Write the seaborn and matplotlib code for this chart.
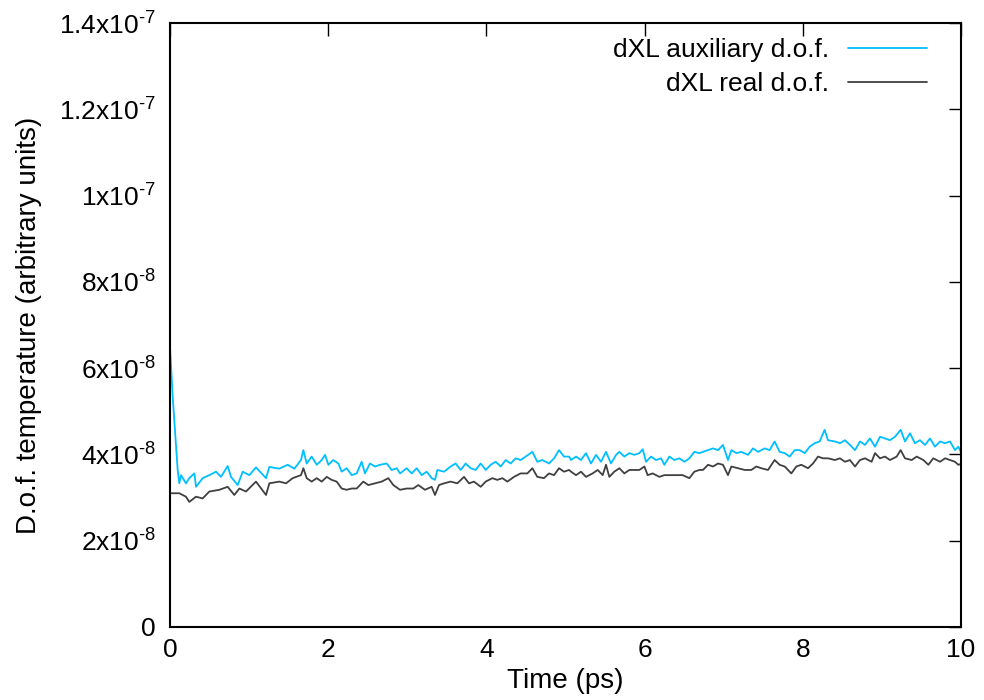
import matplotlib
matplotlib.use("Agg")
import matplotlib.pyplot as plt
import seaborn as sns
import pandas as pd

# ---------------- data (values in units of 1e-8) ----------------
time_aux = [0.00, 0.034, 0.097, 0.118, 0.139, 0.202, 0.244, 0.308, 0.329, 0.413, 0.497,
            0.582, 0.645, 0.729, 0.771, 0.856, 0.919, 1.003, 1.087, 1.214, 1.256, 1.382,
            1.488, 1.572, 1.656, 1.686, 1.728, 1.791, 1.855, 1.918, 1.960, 2.002, 2.065,
            2.128, 2.170, 2.233, 2.297, 2.360, 2.423, 2.465, 2.528, 2.592, 2.655, 2.739,
            2.802, 2.866, 2.908, 2.992, 3.055, 3.119, 3.182, 3.245, 3.308, 3.350, 3.380,
            3.464, 3.548, 3.611, 3.675, 3.738, 3.801, 3.864, 3.928, 3.991, 4.054, 4.117,
            4.181, 4.244, 4.307, 4.370, 4.433, 4.497, 4.581, 4.644, 4.707, 4.792, 4.855,
            4.918, 4.981, 5.045, 5.070, 5.133, 5.196, 5.259, 5.322, 5.386, 5.449, 5.512,
            5.575, 5.639, 5.681, 5.744, 5.807, 5.870, 5.934, 5.976, 6.018, 6.081, 6.144,
            6.208, 6.250, 6.313, 6.376, 6.439, 6.503, 6.566, 6.629, 6.692, 6.738, 6.802,
            6.865, 6.928, 6.991, 7.054, 7.097, 7.160, 7.223, 7.307, 7.370, 7.434, 7.518,
            7.581, 7.644, 7.707, 7.771, 7.834, 7.897, 7.960, 8.024, 8.087, 8.150, 8.213,
            8.276, 8.318, 8.407, 8.470, 8.533, 8.596, 8.660, 8.723, 8.786, 8.849, 8.913,
            8.976, 9.039, 9.102, 9.166, 9.237, 9.292, 9.355, 9.418, 9.482, 9.545, 9.608,
            9.671, 9.735, 9.798, 9.861, 9.924, 9.966, 10.00]
temp_aux = [6.49, 5.34, 3.64, 3.33, 3.52, 3.33, 3.45, 3.56, 3.25, 3.45, 3.52,
            3.60, 3.48, 3.73, 3.48, 3.29, 3.60, 3.52, 3.70, 3.45, 3.71, 3.67,
            3.76, 3.67, 3.87, 4.10, 3.79, 3.95, 3.76, 3.87, 3.99, 3.76, 3.87,
            3.79, 3.60, 3.68, 3.52, 3.56, 3.83, 3.56, 3.79, 3.72, 3.76, 3.79,
            3.64, 3.68, 3.56, 3.68, 3.56, 3.68, 3.52, 3.60, 3.45, 3.41, 3.64,
            3.60, 3.72, 3.79, 3.64, 3.79, 3.68, 3.64, 3.79, 3.64, 3.76, 3.83,
            3.72, 3.87, 3.79, 3.91, 3.87, 3.95, 4.06, 3.83, 3.87, 3.79, 3.91,
            4.10, 3.95, 3.95, 3.87, 3.95, 3.87, 4.03, 3.79, 3.99, 3.83, 4.06,
            3.79, 3.99, 4.06, 3.95, 4.03, 3.99, 4.03, 4.12, 3.83, 3.95, 3.87,
            3.91, 3.76, 3.95, 3.87, 3.91, 3.83, 3.91, 4.06, 4.03, 4.06, 4.10,
            4.14, 4.10, 4.22, 3.87, 4.10, 4.03, 4.06, 3.99, 4.14, 4.06, 4.14,
            4.10, 4.30, 4.06, 4.03, 3.95, 4.10, 4.10, 4.03, 4.18, 4.26, 4.30,
            4.57, 4.33, 4.30, 4.26, 4.33, 4.22, 4.10, 4.30, 4.22, 4.37, 4.18,
            4.41, 4.37, 4.33, 4.41, 4.57, 4.30, 4.49, 4.26, 4.33, 4.22, 4.37,
            4.18, 4.30, 4.26, 4.30, 4.10, 4.18, 4.05]

time_real = [0.00, 0.118, 0.202, 0.244, 0.329, 0.413, 0.497, 0.624, 0.729, 0.813, 0.877,
             0.961, 1.087, 1.214, 1.256, 1.382, 1.467, 1.551, 1.656, 1.686, 1.728, 1.791,
             1.855, 1.918, 1.981, 2.044, 2.107, 2.170, 2.233, 2.297, 2.360, 2.444, 2.507,
             2.592, 2.676, 2.760, 2.823, 2.908, 2.992, 3.076, 3.139, 3.223, 3.308, 3.350,
             3.401, 3.464, 3.548, 3.633, 3.717, 3.780, 3.843, 3.928, 3.991, 4.075, 4.138,
             4.202, 4.265, 4.349, 4.433, 4.518, 4.581, 4.644, 4.728, 4.792, 4.855, 4.918,
             4.981, 5.045, 5.070, 5.133, 5.196, 5.259, 5.343, 5.407, 5.470, 5.512, 5.554,
             5.617, 5.681, 5.744, 5.807, 5.870, 5.934, 5.997, 6.039, 6.102, 6.187, 6.250,
             6.334, 6.397, 6.481, 6.566, 6.629, 6.692, 6.738, 6.802, 6.865, 6.928, 6.991,
             7.054, 7.097, 7.181, 7.265, 7.349, 7.412, 7.476, 7.560, 7.644, 7.707, 7.771,
             7.855, 7.918, 7.981, 8.066, 8.129, 8.192, 8.255, 8.318, 8.407, 8.470, 8.533,
             8.596, 8.660, 8.723, 8.786, 8.870, 8.913, 8.976, 9.039, 9.102, 9.187, 9.237,
             9.292, 9.376, 9.440, 9.524, 9.587, 9.650, 9.735, 9.798, 9.861, 9.924, 9.966,
             10.00]
temp_real = [3.10, 3.10, 3.02, 2.90, 3.02, 2.98, 3.14, 3.18, 3.25, 3.06, 3.21,
             3.14, 3.37, 3.06, 3.33, 3.37, 3.33, 3.45, 3.52, 3.68, 3.45, 3.37,
             3.45, 3.37, 3.48, 3.41, 3.37, 3.21, 3.18, 3.21, 3.21, 3.37, 3.29,
             3.33, 3.37, 3.45, 3.29, 3.18, 3.21, 3.21, 3.29, 3.18, 3.25, 3.06,
             3.29, 3.33, 3.37, 3.33, 3.48, 3.33, 3.37, 3.25, 3.37, 3.45, 3.41,
             3.45, 3.37, 3.48, 3.56, 3.56, 3.68, 3.48, 3.45, 3.56, 3.52, 3.68,
             3.60, 3.64, 3.60, 3.52, 3.60, 3.48, 3.56, 3.64, 3.52, 3.76, 3.48,
             3.60, 3.68, 3.56, 3.64, 3.64, 3.64, 3.72, 3.52, 3.56, 3.48, 3.52,
             3.52, 3.52, 3.52, 3.45, 3.60, 3.64, 3.64, 3.76, 3.72, 3.79, 3.76,
             3.52, 3.72, 3.68, 3.64, 3.64, 3.72, 3.68, 3.64, 3.87, 3.76, 3.72,
             3.56, 3.72, 3.76, 3.68, 3.79, 3.95, 3.91, 3.91, 3.87, 3.91, 3.83,
             3.87, 3.72, 3.87, 3.91, 3.83, 4.03, 3.91, 3.95, 3.87, 3.95, 4.10,
             3.91, 3.87, 3.95, 3.87, 3.76, 3.91, 3.83, 3.91, 3.87, 3.83, 3.76,
             3.78]

series_labels = ["dXL auxiliary d.o.f.", "dXL real d.o.f."]
series_colors = ["#00bfff", "#404040"]

xtick_vals = [0, 2, 4, 6, 8, 10]
xtick_labels = ["0", "2", "4", "6", "8", "10"]
ytick_vals = [0, 2e-8, 4e-8, 6e-8, 8e-8, 1e-7, 1.2e-7, 1.4e-7]
ytick_labels = ["0", "2x10$^{\u20108}$", "4x10$^{\u20108}$", "6x10$^{\u20108}$",
                "8x10$^{\u20108}$", "1x10$^{\u20107}$", "1.2x10$^{\u20107}$",
                "1.4x10$^{\u20107}$"]
x_label = "Time (ps)"
y_label = "D.o.f. temperature (arbitrary units)"

# ---------------- plotting ----------------
sns.set_theme(style="white")
plt.rcParams["font.family"] = ["Liberation Sans", "DejaVu Sans"]
plt.rcParams["text.color"] = "black"
plt.rcParams["mathtext.default"] = "regular"
plt.rcParams["mathtext.fontset"] = "custom"
plt.rcParams["mathtext.rm"] = "Liberation Sans"

df_aux = pd.DataFrame({"t": time_aux, "T": [v * 1e-8 for v in temp_aux]})
df_real = pd.DataFrame({"t": time_real, "T": [v * 1e-8 for v in temp_real]})

fig = plt.figure(figsize=(9.84, 7.0), dpi=100)
ax = fig.add_axes([170 / 984, 1 - 627 / 700, (961 - 170) / 984, (627 - 23) / 700])

sns.lineplot(data=df_aux, x="t", y="T", ax=ax, color=series_colors[0], lw=1.3,
             label=series_labels[0], estimator=None, sort=False)
sns.lineplot(data=df_real, x="t", y="T", ax=ax, color=series_colors[1], lw=1.3,
             label=series_labels[1], estimator=None, sort=False)

ax.set_xlim(0, 10)
ax.set_ylim(0, 1.4e-7)
ax.set_xticks(xtick_vals)
ax.set_xticklabels(xtick_labels)
ax.set_yticks(ytick_vals)
ax.set_yticklabels(ytick_labels)

fs = 19
ax.tick_params(axis="both", which="major", direction="in", length=9, width=1,
               top=True, right=True, labelsize=fs, colors="black")
ax.tick_params(axis="y", pad=10)
ax.tick_params(axis="x", pad=8)
for s in ax.spines.values():
    s.set_visible(True)
    s.set_color("black")
    s.set_linewidth(1.5)

ax.set_xlabel(x_label, fontsize=20, color="black", labelpad=4)
ax.set_ylabel(y_label, fontsize=20, color="black", labelpad=12)

leg = ax.legend(loc="upper right", frameon=False, markerfirst=False, fontsize=fs,
                handlelength=3.0, handletextpad=0.7, labelspacing=0.38,
                borderaxespad=0.3, bbox_to_anchor=(0.98, 1.006))
for t in leg.get_texts():
    t.set_color("black")

fig.savefig("out.png", dpi=100)
